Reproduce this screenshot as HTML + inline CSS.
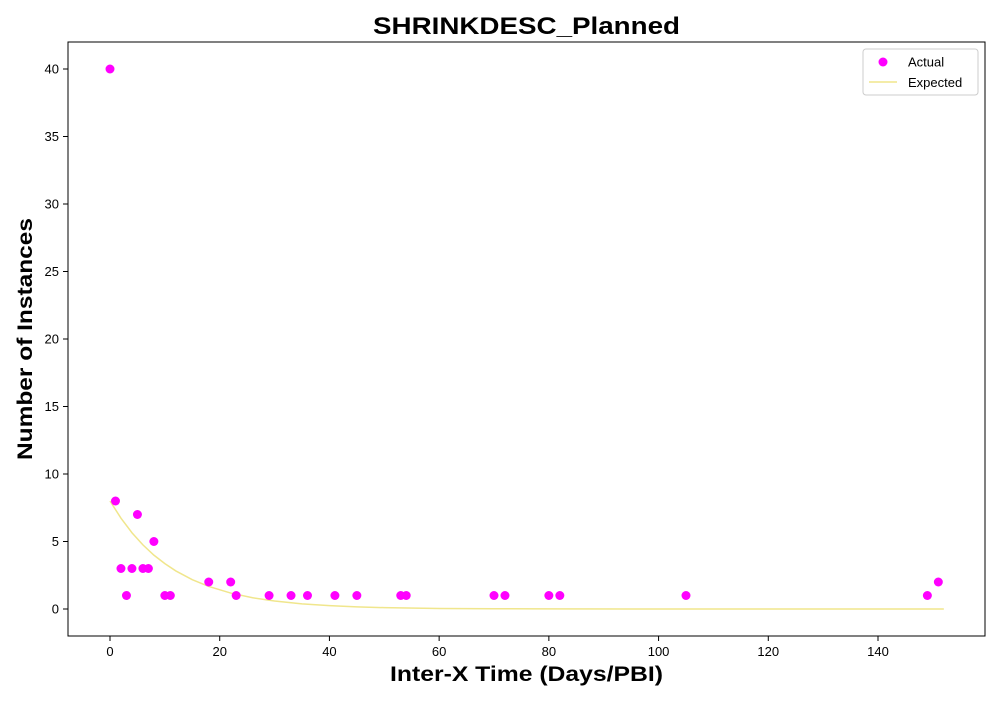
<!DOCTYPE html>
<html><head><meta charset="utf-8"><style>
body{margin:0;background:#fff;font-family:"Liberation Sans","DejaVu Sans",sans-serif}
svg text{font-family:"Liberation Sans","DejaVu Sans",sans-serif}
</style></head><body>
<svg id="chart" width="1000" height="700" xmlns="http://www.w3.org/2000/svg">
<text x="373" y="34" textLength="307" lengthAdjust="spacingAndGlyphs" font-size="24" font-weight="bold">SHRINKDESC_Planned</text>
<rect x="68" y="42" width="917" height="594" fill="none" stroke="#000" stroke-width="1"/>
<g id="xticks"></g>
<g id="yticks"></g>
<path id="expected" fill="none" stroke="#f0e68c" stroke-width="1.5"/>
<g id="points"></g>
<text x="390" y="681" textLength="273" lengthAdjust="spacingAndGlyphs" font-size="21" font-weight="bold">Inter-X Time (Days/PBI)</text>
<text transform="translate(32,460) rotate(-90)" textLength="242" lengthAdjust="spacingAndGlyphs" font-size="21" font-weight="bold">Number of Instances</text>
<g>
<rect x="863" y="49" width="115" height="46" rx="3" fill="#fff" stroke="#ccc"/>
<circle cx="883" cy="62" r="4.5" fill="#ff00ff"/>
<text x="908" y="66.5" font-size="13">Actual</text>
<line x1="869" y1="82" x2="897" y2="82" stroke="#f0e68c" stroke-width="1.5"/>
<text x="908" y="87" font-size="13">Expected</text>
</g>
</svg>
<script>
const actualX=[0,1,2,3,4,5,6,7,8,10,11,18,22,23,29,33,36,41,45,53,54,70,72,80,82,105,149,151];
const actualY=[40,8,3,1,3,7,3,3,5,1,1,2,2,1,1,1,1,1,1,1,1,1,1,1,1,1,1,2];
const expX=[0,2,4,6,8,10,12,15,18,22,26,30,35,40,45,50,60,70,80,100,120,152];
const expY=[8,6.73,5.65,4.75,3.99,3.36,2.82,2.17,1.67,1.18,0.83,0.59,0.38,0.25,0.16,0.10,0.04,0.02,0.01,0,0,0];
const xTicks=[0,20,40,60,80,100,120,140];
const yTicks=[0,5,10,15,20,25,30,35,40];
const NS="http://www.w3.org/2000/svg";
const sx=v=>110+v*(768/140), sy=v=>609-v*13.5;
const xg=document.getElementById('xticks'), yg=document.getElementById('yticks');
xTicks.forEach(t=>{
 const l=document.createElementNS(NS,'line');
 l.setAttribute('x1',sx(t));l.setAttribute('x2',sx(t));l.setAttribute('y1',636);l.setAttribute('y2',641);l.setAttribute('stroke','#000');
 
 
 xg.appendChild(l);
 const tx=document.createElementNS(NS,'text');
 tx.setAttribute('x',sx(t));tx.setAttribute('y',656);tx.setAttribute('text-anchor','middle');tx.setAttribute('font-size','13');tx.textContent=t;
 
 
 xg.appendChild(tx);
});
yTicks.forEach(t=>{
 const l=document.createElementNS(NS,'line');
 l.setAttribute('x1',63);l.setAttribute('x2',68);l.setAttribute('y1',sy(t));l.setAttribute('y2',sy(t));l.setAttribute('stroke','#000');
 
 
 yg.appendChild(l);
 const tx=document.createElementNS(NS,'text');
 tx.setAttribute('x',59);tx.setAttribute('y',sy(t)+4.5);tx.setAttribute('text-anchor','end');tx.setAttribute('font-size','13');tx.textContent=t;
 
 
 yg.appendChild(tx);
});
document.getElementById('expected').setAttribute('d',expX.map((x,i)=>(i?'L':'M')+sx(x)+','+sy(expY[i])).join(' '));
const pg=document.getElementById('points');
actualX.forEach((x,i)=>{
 const c=document.createElementNS(NS,'circle');
 c.setAttribute('cx',sx(x));c.setAttribute('cy',sy(actualY[i]));c.setAttribute('r',4.5);c.setAttribute('fill','#ff00ff');
 
 
 pg.appendChild(c);
});
</script>
</body></html>
